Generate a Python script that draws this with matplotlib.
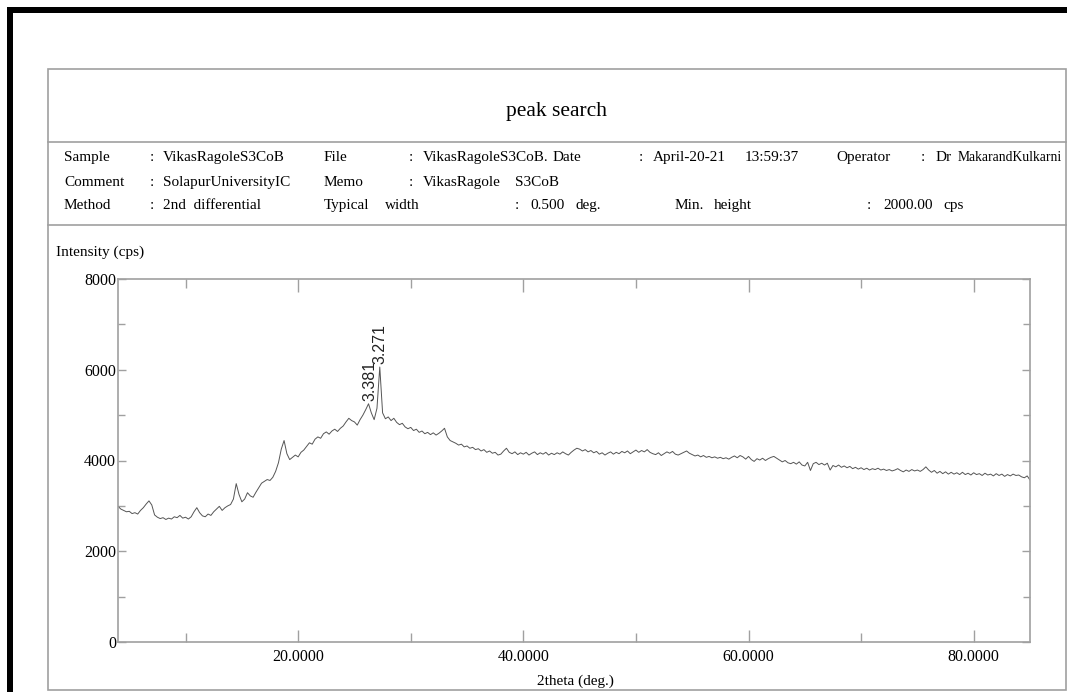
import matplotlib
matplotlib.use('Agg')
import matplotlib.pyplot as plt
import numpy as np
from matplotlib.lines import Line2D
from matplotlib.patches import Rectangle
from matplotlib.ticker import MultipleLocator, FixedLocator

plt.rcParams['font.family'] = ['Liberation Serif', 'DejaVu Serif']

# scan: 4.00 - 85.00 deg, step 0.25 deg
two_theta = np.round(np.arange(4.0, 85.001, 0.25), 2)
intensity = [
    2990, 2930, 2900, 2870, 2880, 2830, 2850, 2820, 2900, 2960, 3040, 3110, 3020, 2800, 2750, 2720, 2740, 2700, 2730, 2710,
    2760, 2740, 2790, 2730, 2750, 2710, 2760, 2870, 2960, 2850, 2780, 2760, 2820, 2790, 2870, 2930, 2990, 2900, 2960, 3000,
    3030, 3150, 3490, 3250, 3090, 3150, 3290, 3220, 3190, 3300, 3400, 3500, 3540, 3580, 3560, 3630, 3760, 3950, 4250, 4440,
    4150, 4020, 4070, 4120, 4080, 4180, 4230, 4310, 4390, 4360, 4470, 4520, 4490, 4590, 4630, 4580, 4650, 4690, 4640, 4710,
    4760, 4850, 4930, 4880, 4850, 4780, 4900, 5000, 5120, 5250, 5050, 4900, 5150, 6060, 5050, 4920, 4960, 4880, 4930, 4840,
    4790, 4820, 4740, 4700, 4730, 4660, 4690, 4620, 4650, 4590, 4620, 4570, 4610, 4560, 4600, 4650, 4710, 4520, 4440, 4410,
    4380, 4340, 4360, 4300, 4320, 4270, 4290, 4240, 4260, 4210, 4240, 4180, 4210, 4160, 4180, 4120, 4140, 4210, 4270, 4180,
    4150, 4190, 4130, 4170, 4140, 4180, 4120, 4160, 4190, 4130, 4170, 4140, 4180, 4120, 4160, 4130, 4170, 4140, 4190, 4150,
    4120, 4180, 4230, 4270, 4250, 4210, 4240, 4190, 4220, 4170, 4200, 4140, 4170, 4120, 4160, 4190, 4140, 4180, 4150, 4200,
    4170, 4210, 4150, 4190, 4230, 4180, 4220, 4190, 4240, 4180, 4150, 4130, 4170, 4110, 4150, 4190, 4160, 4200, 4140, 4120,
    4150, 4180, 4210, 4160, 4130, 4100, 4120, 4080, 4110, 4070, 4090, 4060, 4080, 4050, 4070, 4040, 4060, 4030, 4070, 4100,
    4060, 4110, 4080, 4030, 4090, 4020, 3980, 4040, 4010, 4050, 4000, 4040, 4070, 4090, 4050, 4010, 3970, 4000, 3950, 3930,
    3960, 3920, 3970, 3900, 3880, 3960, 3780, 3930, 3960, 3910, 3940, 3900, 3940, 3790, 3890, 3860, 3900, 3850, 3880, 3840,
    3870, 3820, 3850, 3810, 3840, 3800, 3830, 3790, 3820, 3800, 3830, 3790, 3810, 3780, 3800, 3770, 3790, 3820, 3780, 3750,
    3790, 3760, 3800, 3770, 3790, 3760, 3800, 3860, 3790, 3740, 3780, 3720, 3760, 3710, 3750, 3700, 3740, 3700, 3730, 3690,
    3740, 3690, 3720, 3680, 3730, 3690, 3710, 3670, 3720, 3680, 3700, 3660, 3710, 3670, 3700, 3650, 3690, 3660, 3700, 3670,
    3680, 3640, 3620, 3660, 3570,
]

# peaks found by the search (d-spacing labels)
peak_pos = [26.34, 27.25]
peak_int = [5250, 6060]
peak_labels = ['3.381', '3.271']

x_ticks = [20, 40, 60, 80]
x_ticklabels = ['20.0000', '40.0000', '60.0000', '80.0000']
y_ticks = [0, 2000, 4000, 6000, 8000]

W, H = 1067, 692
fig = plt.figure(figsize=(W / 100, H / 100), dpi=100)


def px(x, y):
    return x / W, 1 - y / H


def ftext(x, y, s, **kw):
    # y is the text baseline in pixels from the top
    fx, fy = px(x, y)
    fig.text(fx, fy, s, va='baseline', ha=kw.pop('ha', 'left'), fontsize=kw.pop('fontsize', 11), **kw)


# black frame (top and left)
fig.add_artist(Rectangle(px(7, 13), (W - 7) / W, 6 / H, transform=fig.transFigure,
                         facecolor='black', edgecolor='none'))
fig.add_artist(Rectangle(px(7, 692), 6 / W, (692 - 7) / H, transform=fig.transFigure,
                         facecolor='black', edgecolor='none'))

# gray report box
box_col = '#a0a0a0'
fig.add_artist(Rectangle(px(48, 690), (1066 - 48) / W, (690 - 69) / H, transform=fig.transFigure,
                         facecolor='none', edgecolor=box_col, linewidth=1.2))
for yy in (142, 225):
    fig.add_artist(Line2D([48 / W, 1066 / W], [1 - yy / H, 1 - yy / H], transform=fig.transFigure,
                          color=box_col, linewidth=1.2))

ftext(557, 116, 'peak search', ha='center', fontsize=15.5)

# header rows
r1, r2, r3 = 161, 186, 209
ftext(64, r1, 'Sample'); ftext(150, r1, ':'); ftext(163, r1, 'VikasRagoleS3CoB')
ftext(324, r1, 'File'); ftext(409, r1, ':'); ftext(423, r1, 'VikasRagoleS3CoB.')
ftext(553, r1, 'Date'); ftext(639, r1, ':'); ftext(653, r1, 'April-20-21'); ftext(745, r1, '13:59:37')
ftext(836, r1, 'Operator'); ftext(921, r1, ':'); ftext(936, r1, 'Dr')
ftext(958, r1, 'MakarandKulkarni', fontsize=9.8)

ftext(64, r2, 'Comment'); ftext(150, r2, ':'); ftext(163, r2, 'SolapurUniversityIC')
ftext(324, r2, 'Memo'); ftext(409, r2, ':'); ftext(423, r2, 'VikasRagole'); ftext(515, r2, 'S3CoB')

ftext(64, r3, 'Method'); ftext(150, r3, ':'); ftext(163, r3, '2nd  differential')
ftext(324, r3, 'Typical'); ftext(385, r3, 'width'); ftext(515, r3, ':'); ftext(530, r3, '0.500')
ftext(576, r3, 'deg.'); ftext(675, r3, 'Min.'); ftext(714, r3, 'height')
ftext(867, r3, ':'); ftext(883, r3, '2000.00'); ftext(943, r3, 'cps')

ftext(56, 256, 'Intensity (cps)')
ftext(575, 685, '2theta (deg.)', ha='center')

# plot area
ax = fig.add_axes([118 / W, 1 - 642 / H, (1030 - 118) / W, (642 - 279) / H])
ax.plot(two_theta, intensity, color='#555555', linewidth=0.7)

for xp, yp, lab in zip(peak_pos, peak_int, peak_labels):
    ax.annotate(lab, (xp, yp), xytext=(0, 2), textcoords='offset points',
                rotation=90, ha='center', va='bottom', fontsize=11.5,
                family=['Liberation Sans', 'DejaVu Sans'], color='#222222')

ax.set_xlim(4, 85)
ax.set_ylim(0, 8000)
ax.xaxis.set_major_locator(FixedLocator(x_ticks))
ax.set_xticklabels(x_ticklabels, fontsize=11.5)
ax.xaxis.set_minor_locator(FixedLocator([10, 30, 50, 70]))
ax.yaxis.set_major_locator(FixedLocator(y_ticks))
ax.set_yticklabels([str(v) for v in y_ticks], fontsize=11.5)
ax.yaxis.set_minor_locator(MultipleLocator(1000))

for s in ax.spines.values():
    s.set_color(box_col)
    s.set_linewidth(1.2)
ax.tick_params(axis='x', which='major', direction='in', length=9, width=1, color=box_col,
               top=True, pad=5)
ax.tick_params(axis='x', which='minor', direction='in', length=6.5, width=1, color=box_col, top=True)
ax.tick_params(axis='y', which='major', direction='in', length=6, width=1, color=box_col,
               right=True, pad=1.5)
ax.tick_params(axis='y', which='minor', direction='in', length=4.8, width=1, color=box_col, right=True)

fig.savefig('out.png', dpi=100)
